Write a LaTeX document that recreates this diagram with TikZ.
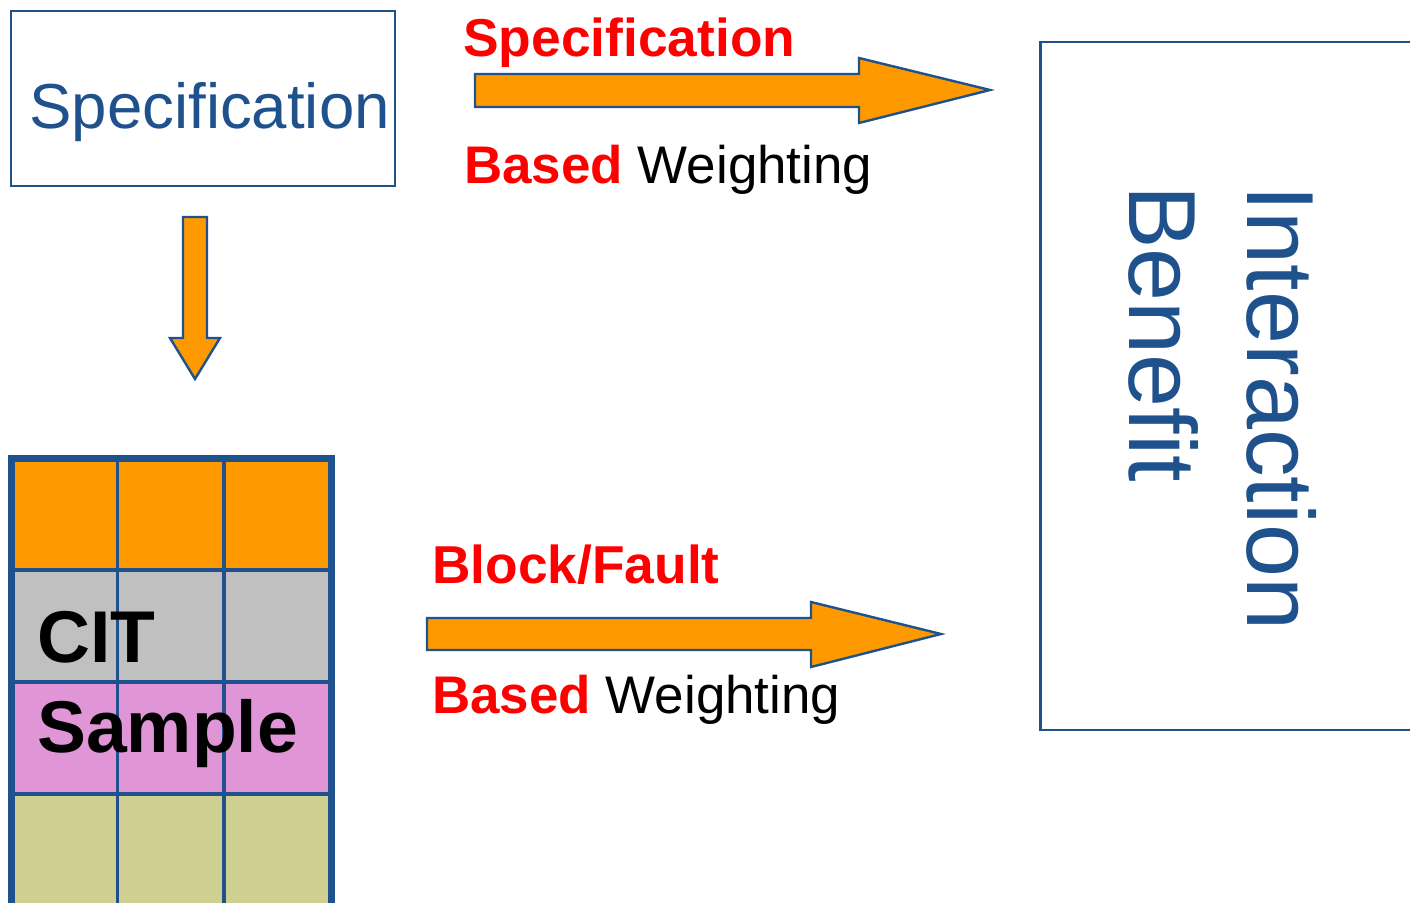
\documentclass[tikz,border=0pt]{standalone}
\usepackage{fontspec}
\setmainfont{Liberation Sans}
\definecolor{ibmblue}{RGB}{31,82,140}
\definecolor{arrorange}{RGB}{255,153,0}
\definecolor{cellgray}{RGB}{192,192,192}
\definecolor{cellpink}{RGB}{224,150,214}
\definecolor{cellolive}{RGB}{207,207,146}
\definecolor{lblred}{RGB}{255,0,0}
\begin{document}
\begin{tikzpicture}[x=0.75pt,y=-0.75pt,
  txt/.style={inner sep=0pt, anchor=base west},
  blockarrow/.style={fill=arrorange, draw=ibmblue, line width=1.8pt, line join=miter},
  bluebox/.style={draw=ibmblue, line width=1.6pt, inner sep=0pt},
  redlbl/.style={txt, text=lblred, font=\fontsize{40}{48}\selectfont\bfseries},
  weightlbl/.style={txt, font=\fontsize{39.7}{48}\selectfont}]
\clip (0,0) rectangle (1410,903);
% Specification box
\node[bluebox, minimum width=288pt, minimum height=131.25pt] (spec) at (203,98.5) {};
\node[txt, text=ibmblue, font=\fontsize{47.7}{56}\selectfont] (spectext) at (29,128) {Specification};
% Interaction Benefit box
\node[bluebox, minimum width=292.5pt, minimum height=516pt] (ib) at (1235.5,386) {};
\node[txt, rotate=-90, text=ibmblue, font=\fontsize{71.5}{84}\selectfont] (inter) at (1247,185) {Interaction};
\node[txt, rotate=-90, text=ibmblue, font=\fontsize{71.5}{84}\selectfont] (bene) at (1129,185) {Benefit};
% top arrow and labels
\draw[blockarrow] (475,74) -- (859,74) -- (859,58) -- (990,90) -- (859,123) -- (859,107) -- (475,107) -- cycle;
\node[redlbl] (spl) at (463,56) {Specification};
\node[weightlbl] (sbw) at (464,183) {{\color{lblred}\bfseries Based} Weighting};
% bottom arrow and labels
\draw[blockarrow] (427,618) -- (811,618) -- (811,602) -- (941,634) -- (811,667) -- (811,650) -- (427,650) -- cycle;
\node[redlbl] (bfl) at (432,583) {Block/Fault};
\node[weightlbl] (bbw) at (432,713) {{\color{lblred}\bfseries Based} Weighting};
% down arrow
\draw[blockarrow] (183,217) -- (207,217) -- (207,338) -- (220,338) -- (195,379) -- (170,338) -- (183,338) -- cycle;
% CIT sample grid
\fill[arrorange] (11,458) rectangle (332,570);
\fill[cellgray] (11,570) rectangle (332,682);
\fill[cellpink] (11,682) rectangle (332,794);
\fill[cellolive] (11,794) rectangle (332,915);
\begin{scope}[draw=ibmblue, line width=2.4pt]
  \draw (117.5,458) -- (117.5,915);
  \draw (224,458) -- (224,915);
  \draw (11,570) -- (332,570);
  \draw (11,682) -- (332,682);
  \draw (11,794) -- (332,794);
\end{scope}
\draw[draw=ibmblue, line width=5pt, line join=miter] (11.5,915) -- (11.5,458.5) -- (331.5,458.5) -- (331.5,915);
\node[txt, font=\fontsize{55}{66}\selectfont\bfseries] (cit) at (37,662) {CIT};
\node[txt, font=\fontsize{55}{66}\selectfont\bfseries] (sample) at (37,752) {Sample};
\end{tikzpicture}
\end{document}
